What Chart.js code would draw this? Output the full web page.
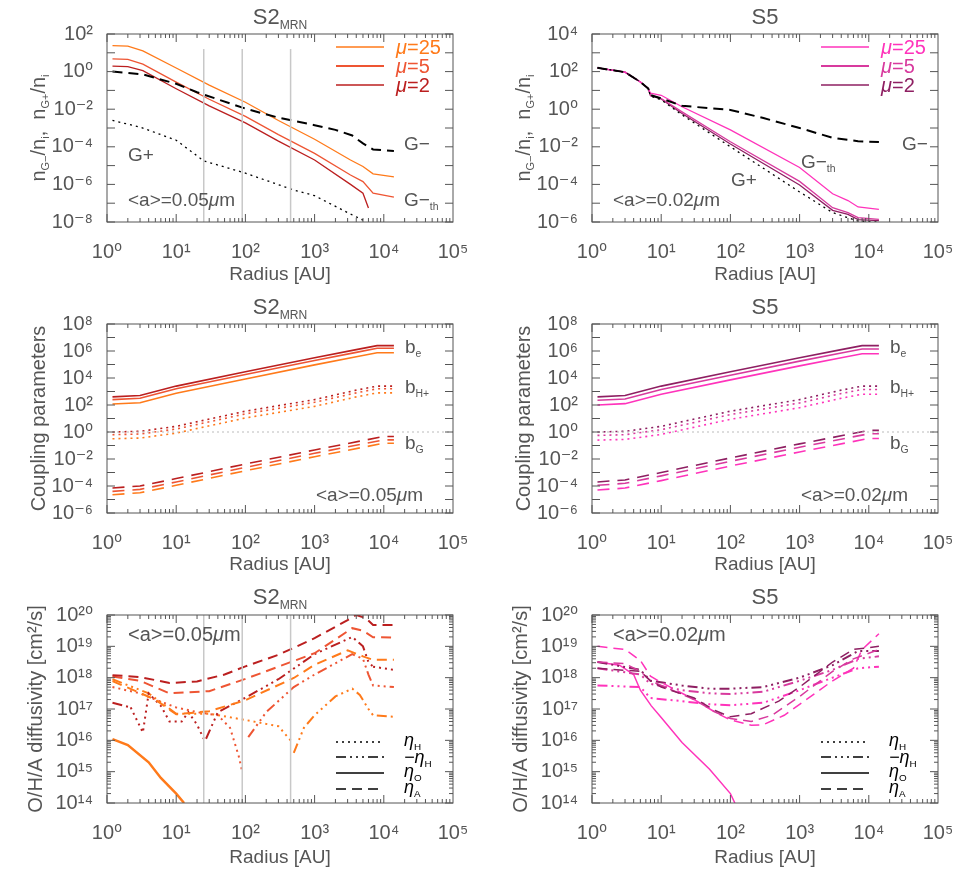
<!DOCTYPE html>
<html><head><meta charset="utf-8">
<script src="https://cdn.jsdelivr.net/npm/chart.js@4"></script>
<style>body{margin:0;background:#fff;width:969px;height:873px;position:relative;overflow:hidden}
canvas{position:absolute}</style></head><body>
<canvas id="c1" width="480" height="290" style="left:0;top:0"></canvas>
<canvas id="c2" width="484" height="290" style="left:485px;top:0"></canvas>
<canvas id="c3" width="480" height="290" style="left:0;top:290px"></canvas>
<canvas id="c4" width="484" height="290" style="left:485px;top:290px"></canvas>
<canvas id="c5" width="480" height="293" style="left:0;top:580px"></canvas>
<canvas id="c6" width="484" height="293" style="left:485px;top:580px"></canvas>
<script>
// ---- data: [radius AU, log10(value)] ----
const xTicks=[1,10,100,1000,10000,100000];
const markerRadii=[25,90,450];
// Panel 1: S2 MRN abundances
const p1_mu25=[[1.2,1.38],[2,1.35],[3.3,1.1],[10,0.19],[30,-0.72],[100,-1.63],[300,-2.6],[1000,-3.6],[3300,-4.7],[5000,-5.05],[7000,-5.44],[14000,-5.6]];
const p1_mu5=[[1.2,0.68],[2,0.65],[3.3,0.4],[10,-0.56],[30,-1.47],[100,-2.38],[300,-3.35],[1000,-4.35],[3300,-5.5],[5000,-5.85],[7000,-6.47],[14000,-6.68]];
const p1_mu2=[[1.2,0.29],[2,0.26],[3.3,0.05],[10,-0.91],[30,-1.82],[100,-2.73],[300,-3.7],[1000,-4.7],[3300,-6.0],[5000,-6.47],[6000,-7.26]];
const p1_Gm=[[1.2,0.0],[3.3,-0.15],[10,-0.65],[20,-1.1],[100,-1.97],[300,-2.45],[1000,-2.85],[2000,-3.1],[3500,-3.4],[5000,-3.82],[7000,-4.14],[14000,-4.22]];
const p1_Gp=[[1.2,-2.6],[3,-2.95],[10,-3.65],[25,-4.75],[100,-5.4],[500,-6.3],[1000,-6.6],[3000,-7.5],[5000,-7.9]];
// Panel 2: S5 abundances
const p2_mu25=[[1.2,2.2],[3,1.97],[5,1.45],[6.5,1.1],[7,0.85],[10,0.74],[20,0.13],[100,-1.1],[1000,-3.1],[3000,-4.5],[5000,-4.86],[7000,-5.2],[14000,-5.33]];
const p2_mu5=[[1.2,2.2],[3,1.97],[5,1.45],[6.5,1.1],[7,0.75],[10,0.57],[20,-0.14],[100,-1.73],[1000,-3.84],[3000,-5.24],[5000,-5.5],[7000,-5.77],[14000,-5.86]];
const p2_mu2=[[1.2,2.2],[3,1.97],[5,1.45],[6.5,1.1],[7,0.72],[10,0.55],[20,-0.23],[100,-1.85],[1000,-4.03],[3000,-5.38],[5000,-5.6],[7000,-5.87],[14000,-5.93]];
const p2_Gm=[[1.2,2.2],[3,1.97],[5,1.45],[6.5,1.1],[7,0.75],[10,0.57],[20,0.18],[100,-0.04],[300,-0.47],[1000,-1.0],[3000,-1.52],[7000,-1.7],[14000,-1.75]];
const p2_Gp=[[1.2,2.2],[3,1.97],[5,1.45],[6.5,1.1],[7,0.7],[10,0.5],[20,-0.3],[100,-2.0],[1000,-4.4],[3000,-5.5],[7000,-5.95],[14000,-6.0]];
// Panel 3: S2 MRN coupling parameters
const p3_be=[[[1.2,2.6],[3,2.7],[10,3.4],[100,4.46],[1000,5.5],[4000,6.1],[8000,6.4],[14000,6.4]],
             [[1.2,2.4],[3,2.5],[10,3.2],[100,4.26],[1000,5.3],[4000,5.9],[8000,6.2],[14000,6.2]],
             [[1.2,2.07],[3,2.17],[10,2.87],[100,3.93],[1000,4.97],[4000,5.57],[8000,5.87],[14000,5.87]]];
const p3_bH=[[[1.2,0.0],[3,0.05],[10,0.42],[100,1.54],[1000,2.4],[4000,3.1],[8000,3.4],[14000,3.4]],
             [[1.2,-0.2],[3,-0.15],[10,0.22],[100,1.34],[1000,2.2],[4000,2.9],[8000,3.2],[14000,3.2]],
             [[1.2,-0.5],[3,-0.45],[10,-0.08],[100,1.04],[1000,1.9],[4000,2.6],[8000,2.9],[14000,2.9]]];
const p3_bG=[[[1.2,-4.15],[3,-4.0],[10,-3.45],[100,-2.37],[1000,-1.33],[10000,-0.33],[14000,-0.33]],
             [[1.2,-4.4],[3,-4.25],[10,-3.7],[100,-2.62],[1000,-1.58],[10000,-0.58],[14000,-0.58]],
             [[1.2,-4.65],[3,-4.5],[10,-3.95],[100,-2.87],[1000,-1.83],[10000,-0.83],[14000,-0.83]]];
// Panel 4: S5 coupling parameters
const p4_be=[[[1.2,2.6],[3,2.7],[10,3.4],[100,4.46],[1000,5.5],[4000,6.1],[8000,6.4],[14000,6.4]],
             [[1.2,2.35],[3,2.45],[10,3.15],[100,4.21],[1000,5.25],[4000,5.85],[8000,6.15],[14000,6.15]],
             [[1.2,2.0],[3,2.1],[10,2.8],[100,3.86],[1000,4.9],[4000,5.5],[8000,5.8],[14000,5.8]]];
const p4_bH=[[[1.2,0.0],[3,0.05],[10,0.42],[100,1.54],[1000,2.4],[4000,3.1],[8000,3.4],[14000,3.4]],
             [[1.2,-0.25],[3,-0.2],[10,0.17],[100,1.29],[1000,2.15],[4000,2.85],[8000,3.15],[14000,3.15]],
             [[1.2,-0.6],[3,-0.55],[10,-0.18],[100,0.94],[1000,1.8],[4000,2.5],[8000,2.8],[14000,2.8]]];
const p4_bG=[[[1.2,-3.7],[3,-3.55],[10,-3.0],[100,-1.92],[1000,-0.88],[10000,0.12],[14000,0.12]],
             [[1.2,-3.95],[3,-3.8],[10,-3.25],[100,-2.17],[1000,-1.13],[10000,-0.13],[14000,-0.13]],
             [[1.2,-4.3],[3,-4.15],[10,-3.6],[100,-2.52],[1000,-1.48],[10000,-0.48],[14000,-0.48]]];
// Panel 5: S2 MRN diffusivities
const p5_A_mu2=[[1.2,18.08],[3,18.02],[8,17.83],[20,17.88],[50,18.1],[100,18.36],[300,18.73],[1000,19.26],[3000,19.84],[4000,20.0],[5500,19.9],[7000,19.68],[14000,19.68]];
const p5_A_mu5=[[1.2,18.04],[3,17.9],[8,17.5],[30,17.57],[100,17.96],[1000,18.78],[3500,19.58],[5000,19.5],[7000,19.29],[14000,19.28]];
const p5_A_mu25=[[1.2,17.89],[5,17.3],[10,16.83],[30,16.93],[100,17.28],[500,17.99],[1000,18.41],[3000,18.87],[5000,18.68],[7000,18.57],[14000,18.57]];
const p5_mH_mu2a=[[1.2,17.2],[2.2,17.05]];
const p5_H_mu2=[[2.2,17.05],[3.3,16.25],[4,17.5],[6,17.1],[8,16.6],[12,16.6],[15,16.9],[20,16.5],[25,16.05]];
const p5_mH_mu2b=[[27,16.05],[40,16.9],[100,17.36],[300,17.95],[1000,18.75],[3500,19.3],[5000,19.0],[6000,18.5],[7000,18.35]];
const p5_H_mu2b=[[7000,18.35],[14000,18.25]];
const p5_H_mu5=[[1.2,17.7],[3,17.5],[5,17.3],[10,17.05],[20,16.9],[40,16.8],[60,16.4],[80,15.5],[90,15.0]];
const p5_mH_mu5=[[110,16.1],[200,16.9],[500,17.7],[1000,18.1],[3500,18.75],[5000,18.6],[6000,18.1],[7000,17.75],[14000,17.7]];
const p5_mH_mu25a=[[1.2,17.95],[4,17.5],[10,16.85]];
const p5_H_mu25=[[10,16.85],[30,16.85],[100,16.65],[300,16.45],[450,16.0]];
const p5_mH_mu25b=[[500,15.6],[700,16.4],[1000,16.8],[2000,17.4],[3500,17.65],[4500,17.45],[6000,17.0],[7000,16.8],[14000,16.75]];
const p5_O_mu25=[[1.2,16.04],[2,15.85],[4,15.3],[6,14.8],[10,14.3],[13,14.0]];
// Panel 6: S5 diffusivities
const p6_A_mu25=[[1.2,19.0],[3,18.9],[5,18.55],[7,18.05],[10,17.85],[30,17.3],[60,16.9],[100,16.65],[200,16.48],[300,16.5],[600,16.8],[1000,17.15],[3000,17.9],[6000,18.3],[8000,18.9],[14000,19.4]];
const p6_A_mu5=[[1.2,18.5],[3,18.45],[5,18.2],[7,17.9],[10,17.75],[30,17.3],[60,16.9],[100,16.7],[200,16.6],[400,16.8],[1000,17.4],[3000,18.2],[6000,18.6],[14000,18.9]];
const p6_A_mu2=[[1.2,18.3],[5,18.2],[7,17.9],[10,17.7],[30,17.35],[60,16.95],[100,16.75],[200,16.85],[500,17.25],[1000,17.7],[3000,18.5],[6000,18.9],[14000,19.0]];
const p6_mH_mu2=[[1.2,18.5],[5,18.25],[7,17.9],[20,17.75],[50,17.65],[100,17.65],[300,17.7],[1000,18.0],[3000,18.4],[7000,18.85],[14000,18.85]];
const p6_mH_mu5=[[1.2,18.3],[5,18.1],[7,17.8],[20,17.6],[50,17.5],[100,17.48],[300,17.55],[1000,17.9],[3000,18.25],[7000,18.6],[14000,18.68]];
const p6_mH_mu25=[[1.2,17.75],[5,17.7],[7,17.35],[20,17.25],[50,17.15],[100,17.12],[300,17.2],[1000,17.6],[3000,18.0],[7000,18.3],[14000,18.35]];
const p6_O_mu25=[[1.2,18.5],[2.5,18.4],[4,18.1],[5,17.6],[7.2,17.1],[10,16.73],[20,15.93],[50,15.08],[100,14.3],[116,14.0]];

const OR=['#ff7a1a','#ee5533','#bb1f1f']; // mu25, mu5, mu2 (S2)
const PK=['#ff33bb','#d83a9e','#8e1f62'];  // mu25, mu5, mu2 (S5)
const DASH=[10,6], DOT=[2,4], DDD=[10,4,2,4,2,4,2,4];
const GREY='#555';
const FONT='"Liberation Sans", "DejaVu Sans", sans-serif';

const SUP={'0':'⁰','1':'¹','2':'²','3':'³','4':'⁴','5':'⁵','6':'⁶','7':'⁷','8':'⁸','9':'⁹','-':'⁻'};
const pow=n=>'10'+String(n).split('').map(c=>SUP[c]).join('');

function ds(pairs,color,dash,w){return {data:pairs.map(p=>({x:p[0],y:Math.pow(10,p[1])})),borderColor:color,borderDash:dash||[],borderWidth:w||1.3,pointRadius:0,fill:false,tension:0};}
function vline(r,lo,hi){return ds([[r,lo],[r,hi]],'#c8c8c8',[],1.5);}

function richText(ctx,x,y,parts,size,align){
  let w=0;const m=parts.map(p=>{ctx.font=(p.i?'italic ':'')+(p.s?size*0.55:size)+'px '+FONT;const ww=ctx.measureText(p.t).width;w+=ww;return ww;});
  let cx=align==='center'?x-w/2:x;
  parts.forEach((p,k)=>{ctx.font=(p.i?'italic ':'')+(p.s?size*0.55:size)+'px '+FONT;ctx.fillStyle=p.c||GREY;ctx.textBaseline='alphabetic';ctx.textAlign='left';ctx.fillText(p.t,cx,y+(p.s?size*0.22:0));cx+=m[k];});
}

const deco_plugin={id:'deco',afterDraw(ch){
  const o=ch.options.plugins.deco;const ctx=ch.ctx;const a=ch.chartArea;const xs=ch.scales.x,ys=ch.scales.y;
  ctx.save();
  ctx.strokeStyle=GREY;ctx.lineWidth=1;ctx.strokeRect(a.left,a.top,a.right-a.left,a.bottom-a.top);
  ctx.beginPath();
  for(let e=0;e<5;e++)for(let k=1;k<10;k++){const v=k*Math.pow(10,e);const px=xs.getPixelForValue(v);const L=k===1?8:4;
    ctx.moveTo(px,a.bottom);ctx.lineTo(px,a.bottom-L);ctx.moveTo(px,a.top);ctx.lineTo(px,a.top+L);}
  for(let e=o.ylo;e<=o.yhi;e++)for(let k=1;k<10;k++){if(k>1&&!o.yminor)break;const v=k*Math.pow(10,e);if(v>Math.pow(10,o.yhi))break;const py=ys.getPixelForValue(v);const L=k===1?8:4;
    ctx.moveTo(a.left,py);ctx.lineTo(a.left+L,py);ctx.moveTo(a.right,py);ctx.lineTo(a.right-L,py);}
  ctx.stroke();
  richText(ctx,(a.left+a.right)/2,24,[{t:o.title},...(o.tsub?[{t:o.tsub,s:1}]:[])],22,'center');
  ctx.save();ctx.translate(o.ylx,(a.top+a.bottom)/2);ctx.rotate(-Math.PI/2);richText(ctx,0,0,o.ylabel,20,'center');ctx.restore();
  (o.texts||[]).forEach(t=>richText(ctx,t.x,t.y,t.parts,t.size||19,'left'));
  (o.legend||[]).forEach(l=>{ctx.beginPath();ctx.setLineDash(l.dash||[]);ctx.strokeStyle=l.color;ctx.lineWidth=l.w||1.3;ctx.moveTo(a.left+229,l.y);ctx.lineTo(a.left+277,l.y);ctx.stroke();ctx.setLineDash([]);
    richText(ctx,a.left+l.tx,l.y+(l.dy||7),l.parts,l.size||20,'left');});
  ctx.restore();
}};

function make(id,H,top,right,ylo,yhi,ystep,datasets,deco){
  new Chart(document.getElementById(id),{type:'line',data:{datasets},plugins:[deco_plugin],
    options:{responsive:false,animation:false,devicePixelRatio:1,layout:{padding:{top,right,left:0,bottom:0}},
      plugins:{legend:{display:false},tooltip:{enabled:false},deco},
      scales:{
        x:{type:'logarithmic',min:1,max:1e5,grid:{display:false},border:{display:false},
          afterBuildTicks:s=>{s.ticks=xTicks.map(v=>({value:v}));},
          afterFit:s=>{s.height=H-deco.bottom;},
          ticks:{color:GREY,font:{size:20,family:FONT},padding:10,maxRotation:0,callback:v=>pow(Math.round(Math.log10(v)))},
          title:{display:true,text:'Radius [AU]',color:GREY,font:{size:19,family:FONT},padding:{top:0}}},
        y:{type:'logarithmic',min:Math.pow(10,ylo),max:Math.pow(10,yhi),grid:{display:false},border:{display:false},
          afterBuildTicks:s=>{const t=[];for(let e=ylo;e<=yhi;e++)t.push({value:Math.pow(10,e)});s.ticks=t;},
          afterFit:s=>{s.width=107;},
          ticks:{color:GREY,font:{size:20,family:FONT},padding:6,autoSkip:false,callback:v=>{const e=Math.round(Math.log10(v));return (e-ylo)%ystep===0?pow(e):'';}}}
      }}});
}

const yl1=[{t:'n'},{t:'G−',s:1},{t:'/n'},{t:'i',s:1},{t:',  n'},{t:'G+',s:1},{t:'/n'},{t:'i',s:1}];
const mu=(n,c)=>[{t:'μ',i:1,c},{t:'='+n,c}];
const aLbl=s=>[{t:'<a>='+s},{t:'μ',i:1},{t:'m'}];
const K='#000';
const diffLegend=[{y:162,dash:DOT,color:K,parts:[{t:'η',i:1,c:K},{t:'H',s:1,c:K}],tx:297,size:18,dy:4},
  {y:177,dash:DDD,color:K,parts:[{t:'−η',i:1,c:K},{t:'H',s:1,c:K}],tx:297,size:18,dy:6},
  {y:193,dash:[],color:K,parts:[{t:'η',i:1,c:K},{t:'O',s:1,c:K}],tx:297,size:18,dy:4},
  {y:209,dash:DASH,color:K,parts:[{t:'η',i:1,c:K},{t:'A',s:1,c:K}],tx:297,size:18,dy:4}];

make('c1',290,34,27,-8,2,2,[
  ...markerRadii.map(r=>vline(r,-8,1.2)),
  ds(p1_Gp,K,DOT,1.3),ds(p1_Gm,K,DASH,2),
  ds(p1_mu25,OR[0]),ds(p1_mu5,OR[1]),ds(p1_mu2,OR[2])],
  {bottom:222,title:'S2',tsub:'MRN',ylx:45,ylabel:yl1,ylo:-8,yhi:2,
   texts:[{x:128,y:161,parts:[{t:'G+'}]},{x:404,y:150,parts:[{t:'G−'}]},{x:404,y:206,parts:[{t:'G−'},{t:'th',s:1}]},{x:128,y:206,parts:aLbl('0.05')}],
   legend:[{y:47,color:OR[0],parts:mu(25,OR[0]),tx:289},{y:66,color:OR[1],w:2,parts:mu(5,OR[1]),tx:289},{y:85,color:OR[2],parts:mu(2,OR[2]),tx:289}]});
make('c2',290,34,31,-6,4,2,[
  ds(p2_Gp,K,DOT,1.3),ds(p2_Gm,K,DASH,2),
  ds(p2_mu25,PK[0]),ds(p2_mu5,PK[1]),ds(p2_mu2,PK[2])],
  {bottom:222,title:'S5',ylx:45,ylabel:yl1,ylo:-6,yhi:4,
   texts:[{x:246,y:186,parts:[{t:'G+'}]},{x:417,y:150,parts:[{t:'G−'}]},{x:316,y:168,parts:[{t:'G−'},{t:'th',s:1}]},{x:128,y:206,parts:aLbl('0.02')}],
   legend:[{y:47,color:PK[0],parts:mu(25,PK[0]),tx:289},{y:66,color:PK[1],w:2,parts:mu(5,PK[1]),tx:289},{y:85,color:PK[2],parts:mu(2,PK[2]),tx:289}]});
const cp=(be,bH,bG,C)=>[ds([[1,0],[1e5,0]],'#bbb',[2,3],1),
  ...be.map((d,i)=>ds(d,C[2-i],[],1.6)),...bH.map((d,i)=>ds(d,C[2-i],DOT,1.6)),...bG.map((d,i)=>ds(d,C[2-i],[12,8],1.6))];
make('c3',290,34,27,-6,8,2,cp(p3_be,p3_bH,p3_bG,OR),
  {bottom:223,title:'S2',tsub:'MRN',ylx:45,ylabel:[{t:'Coupling parameters'}],ylo:-6,yhi:8,
   texts:[{x:405,y:63,parts:[{t:'b'},{t:'e',s:1}]},{x:405,y:103,parts:[{t:'b'},{t:'H+',s:1}]},{x:405,y:159,parts:[{t:'b'},{t:'G',s:1}]},{x:316,y:211,parts:aLbl('0.05')}]});
make('c4',290,34,31,-6,8,2,cp(p4_be,p4_bH,p4_bG,PK),
  {bottom:223,title:'S5',ylx:45,ylabel:[{t:'Coupling parameters'}],ylo:-6,yhi:8,
   texts:[{x:405,y:63,parts:[{t:'b'},{t:'e',s:1}]},{x:405,y:103,parts:[{t:'b'},{t:'H+',s:1}]},{x:405,y:159,parts:[{t:'b'},{t:'G',s:1}]},{x:316,y:211,parts:aLbl('0.02')}]});
make('c5',293,35,27,14,20,1,[
  ...markerRadii.map(r=>vline(r,14,20)),
  ds(p5_A_mu2,OR[2],DASH,2),ds(p5_A_mu5,OR[1],DASH,2),ds(p5_A_mu25,OR[0],DASH,2),
  ds(p5_mH_mu2a,OR[2],DDD,2),ds(p5_H_mu2,OR[2],DOT,2),ds(p5_mH_mu2b,OR[2],DDD,2),ds(p5_H_mu2b,OR[2],DOT,2),
  ds(p5_H_mu5,OR[1],DOT,2),ds(p5_mH_mu5,OR[1],DDD,2),
  ds(p5_mH_mu25a,OR[0],DDD,2),ds(p5_H_mu25,OR[0],DOT,2),ds(p5_mH_mu25b,OR[0],DDD,2),
  ds(p5_O_mu25,OR[0],[],2.5)],
  {bottom:223,title:'S2',tsub:'MRN',ylx:42,ylabel:[{t:'O/H/A diffusivity [cm²/s]'}],ylo:14,yhi:20,yminor:1,
   texts:[{x:128,y:61,parts:aLbl('0.05'),size:20}],legend:diffLegend});
make('c6',293,35,31,14,20,1,[
  ds(p6_A_mu2,PK[2],DASH,1.5),ds(p6_A_mu5,PK[1],DASH,1.5),ds(p6_A_mu25,PK[0],DASH,1.5),
  ds(p6_mH_mu2,PK[2],DDD,2),ds(p6_mH_mu5,PK[1],DDD,2),ds(p6_mH_mu25,PK[0],DDD,2),
  ds(p6_O_mu25,PK[0],[],1.5)],
  {bottom:223,title:'S5',ylx:42,ylabel:[{t:'O/H/A diffusivity [cm²/s]'}],ylo:14,yhi:20,yminor:1,
   texts:[{x:128,y:61,parts:aLbl('0.02'),size:20}],legend:diffLegend});
</script></body></html>
